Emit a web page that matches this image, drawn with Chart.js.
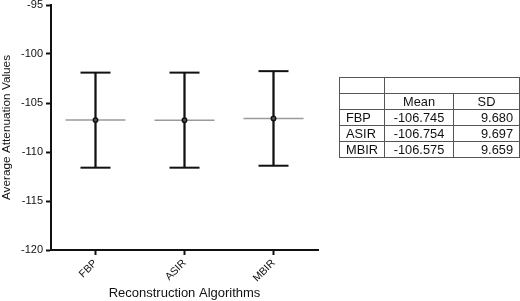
<!DOCTYPE html>
<html>
<head>
<meta charset="utf-8">
<script src="https://cdn.jsdelivr.net/npm/chart.js@4.4.0/dist/chart.umd.min.js"></script>
<style>
  html, body { margin: 0; padding: 0; background: #fff; }
  #wrap { position: relative; width: 520px; height: 301px; }
  canvas { position: absolute; left: 0; top: 0; }
  table {
    position: absolute; left: 339px; top: 77px; width: 180px;
    border-collapse: collapse; table-layout: fixed;
    font-family: "Liberation Sans", Arial, sans-serif; font-size: 12.8px; color: #111;
  }
  td { border: 1px solid #555; height: 15px; padding: 0 6px; line-height: 15px; white-space: nowrap; overflow: hidden; }
  td.c { text-align: center; }
  td.r { text-align: right; }
</style>
</head>
<body>
<div id="wrap">
  <canvas id="c" width="520" height="301"></canvas>
  <table id="tbl"></table>
</div>
<script>
const categories = ["FBP", "ASIR", "MBIR"];
const means = [-106.745, -106.754, -106.575];
const sds = [9.680, 9.697, 9.659];
const meanLabels = ["-106.745", "-106.754", "-106.575"];
const sdLabels = ["9.680", "9.697", "9.659"];
const upper = [-101.9, -101.9, -101.75];
const lower = [-111.6, -111.6, -111.4];
const yTicks = [-95, -100, -105, -110, -115, -120];

// table
const tbl = document.getElementById('tbl');
let html = '<colgroup><col style="width:45px"><col style="width:69px"><col style="width:66px"></colgroup>';
html += '<tr><td></td><td colspan="2"></td></tr>';
html += '<tr><td></td><td class="c">Mean</td><td class="c">SD</td></tr>';
categories.forEach((c, i) => {
  html += '<tr><td>' + c + '</td><td class="c">' + meanLabels[i] + '</td><td class="r">' + sdLabels[i] + '</td></tr>';
});
tbl.innerHTML = html;

const FONT = "'Liberation Sans', Arial, sans-serif";
new Chart(document.getElementById('c'), {
  type: 'bar',
  data: {
    labels: categories,
    datasets: [
      {
        type: 'line', showLine: false, data: means,
        pointStyle: 'line', pointRadius: 30, pointBorderWidth: 1.5,
        pointBorderColor: '#9a9a9a', pointBackgroundColor: '#9a9a9a', order: 3
      },
      {
        type: 'bar', data: categories.map((c, i) => [lower[i], upper[i]]),
        backgroundColor: '#111', borderWidth: 0, barThickness: 1.6, order: 2
      },
      {
        type: 'line', showLine: false, data: upper,
        pointStyle: 'line', pointRadius: 15, pointBorderWidth: 2,
        pointBorderColor: '#111', order: 1
      },
      {
        type: 'line', showLine: false, data: lower,
        pointStyle: 'line', pointRadius: 15, pointBorderWidth: 2,
        pointBorderColor: '#111', order: 1
      },
      {
        type: 'line', showLine: false, data: means,
        pointStyle: 'circle', pointRadius: 2.2, pointBorderWidth: 1.5,
        pointBorderColor: '#111', pointBackgroundColor: '#555', order: 0
      }
    ]
  },
  options: {
    responsive: false,
    animation: false,
    layout: { autoPadding: false, padding: { top: 5, right: 202, bottom: 0, left: 0 } },
    plugins: { legend: { display: false }, tooltip: { enabled: false } },
    scales: {
      x: {
        offset: true,
        grid: { display: true, drawOnChartArea: false, offset: false, tickLength: 5, tickWidth: 2, tickColor: '#111' },
        border: { display: true, color: '#111', width: 2 },
        ticks: { color: '#111', font: { family: FONT, size: 10.5 }, minRotation: 45, maxRotation: 45, padding: 2 },
        title: { display: true, text: 'Reconstruction Algorithms', color: '#111', font: { family: FONT, size: 13 }, padding: { top: 4, bottom: 0 } },
        afterFit: s => { s.height = 51; s.paddingLeft = 0; s.paddingRight = 0; }
      },
      y: {
        min: -120, max: -95,
        afterBuildTicks: s => { s.ticks = yTicks.map(v => ({ value: v })); },
        grid: { display: true, drawOnChartArea: false, tickLength: 5, tickWidth: 2, tickColor: '#111' },
        border: { display: true, color: '#111', width: 2 },
        ticks: { color: '#111', font: { family: FONT, size: 11 }, padding: 3 },
        title: { display: true, text: 'Average Attenuation Values', color: '#111', font: { family: FONT, size: 11.8 }, padding: { top: 0, bottom: 2 } },
        afterFit: s => { s.width = 51; s.paddingTop = 0; s.paddingBottom = 0; }
      }
    }
  }
});
</script>
</body>
</html>
